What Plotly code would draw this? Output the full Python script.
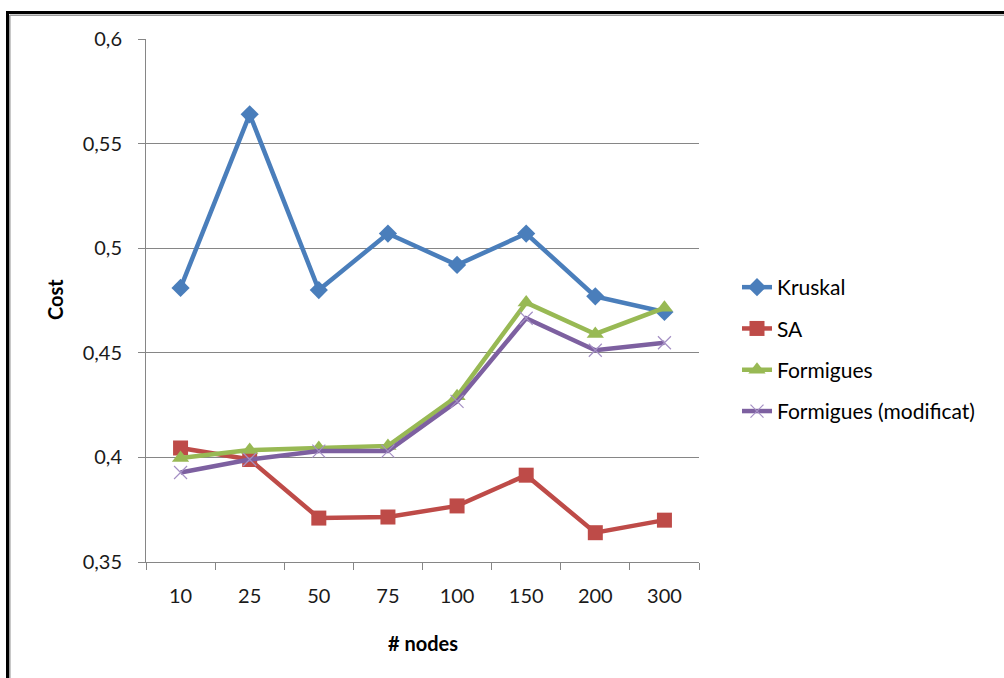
import plotly.graph_objects as go

# Data: average cost per algorithm for each graph size
nodes = ["10", "25", "50", "75", "100", "150", "200", "300"]
kruskal = [0.481, 0.564, 0.480, 0.507, 0.492, 0.507, 0.477, 0.4695]
sa = [0.4045, 0.399, 0.371, 0.3715, 0.3768, 0.3915, 0.364, 0.370]
formigues = [0.3997, 0.4035, 0.4045, 0.4055, 0.4292, 0.474, 0.459, 0.4715]
formigues_mod = [0.3928, 0.399, 0.403, 0.403, 0.4268, 0.4665, 0.4512, 0.4548]

y_ticks = [0.35, 0.4, 0.45, 0.5, 0.55, 0.6]
y_labels = ["0,35", "0,4", "0,45", "0,5", "0,55", "0,6"]

FONT = "Lato, 'Open Sans', sans-serif"
W, H = 1004, 678
L, R, T, B = 146, 305, 39, 116
PW, PH = W - L - R, H - T - B

series = [
    ("Kruskal", kruskal, "#4A7EBB", dict(symbol="diamond", size=14)),
    ("SA", sa, "#BE4B48", dict(symbol="square", size=15)),
    ("Formigues", formigues, "#98B954", dict(symbol="triangle-up", size=15)),
    ("Formigues (modificat)", formigues_mod, "#7D60A0",
     dict(symbol="x-thin", size=13, line=dict(width=1.2, color="#A48FC4"))),
]

fig = go.Figure()
for i, (name, vals, color, marker) in enumerate(series):
    fig.add_trace(go.Scatter(
        x=nodes, y=vals, name=name, mode="lines+markers",
        line=dict(color=color, width=4.5),
        marker=dict(color=color, **marker),
        legendgroup=f"g{i}",
    ))


def px_x(p):
    return (p - L) / PW


def px_y(p):
    return 1 - (p - T) / PH


# Chart frame with its shadow
shapes = [
    dict(type="line", xref="paper", yref="paper", x0=px_x(9.8), x1=px_x(9.8),
         y0=px_y(15), y1=px_y(700), line=dict(color="#9a9a9a", width=1.5)),
    dict(type="line", xref="paper", yref="paper", x0=px_x(9.8), x1=px_x(1010),
         y0=px_y(15.3), y1=px_y(15.3), line=dict(color="#9a9a9a", width=1.5)),
    dict(type="line", xref="paper", yref="paper", x0=px_x(7.5), x1=px_x(7.5),
         y0=px_y(11), y1=px_y(700), line=dict(color="black", width=3)),
    dict(type="line", xref="paper", yref="paper", x0=px_x(6), x1=px_x(1010),
         y0=px_y(12.5), y1=px_y(12.5), line=dict(color="black", width=3)),
]

annotations = [
    dict(text="<b>Cost</b>", xref="paper", yref="paper", x=px_x(55), y=px_y(300),
         xanchor="center", yanchor="middle",
         textangle=-90, showarrow=False, font=dict(family=FONT, size=20, color="black")),
    dict(text="<b># nodes</b>", xref="paper", yref="paper", x=px_x(423), y=px_y(643),
         xanchor="center", yanchor="middle",
         showarrow=False, font=dict(family=FONT, size=20, color="black")),
]

fig.update_layout(
    width=W, height=H,
    margin=dict(l=L, r=R, t=T, b=B),
    paper_bgcolor="white", plot_bgcolor="white",
    font=dict(family=FONT, size=20, color="#1a1a1a"),
    showlegend=True,
    legend=dict(
        x=px_x(737), y=px_y(267), xanchor="left", yanchor="top",
        font=dict(family=FONT, size=21, color="black"),
        tracegroupgap=11, bgcolor="rgba(0,0,0,0)",
    ),
    shapes=shapes,
    annotations=annotations,
    xaxis=dict(
        type="category", showgrid=False, showline=True, linecolor="#868686",
        linewidth=1, ticks="outside", tickson="boundaries", ticklen=7,
        tickcolor="#868686", ticklabelstandoff=16, zeroline=False,
        range=[-0.5, len(nodes) - 0.5],
    ),
    yaxis=dict(
        range=[0.35, 0.6], tickvals=y_ticks, ticktext=y_labels,
        showgrid=True, gridcolor="#868686", gridwidth=1,
        showline=True, linecolor="#868686", linewidth=1,
        ticks="outside", ticklen=7, tickcolor="#868686",
        ticklabelstandoff=12, zeroline=False,
    ),
)

fig.write_html("out.html")
